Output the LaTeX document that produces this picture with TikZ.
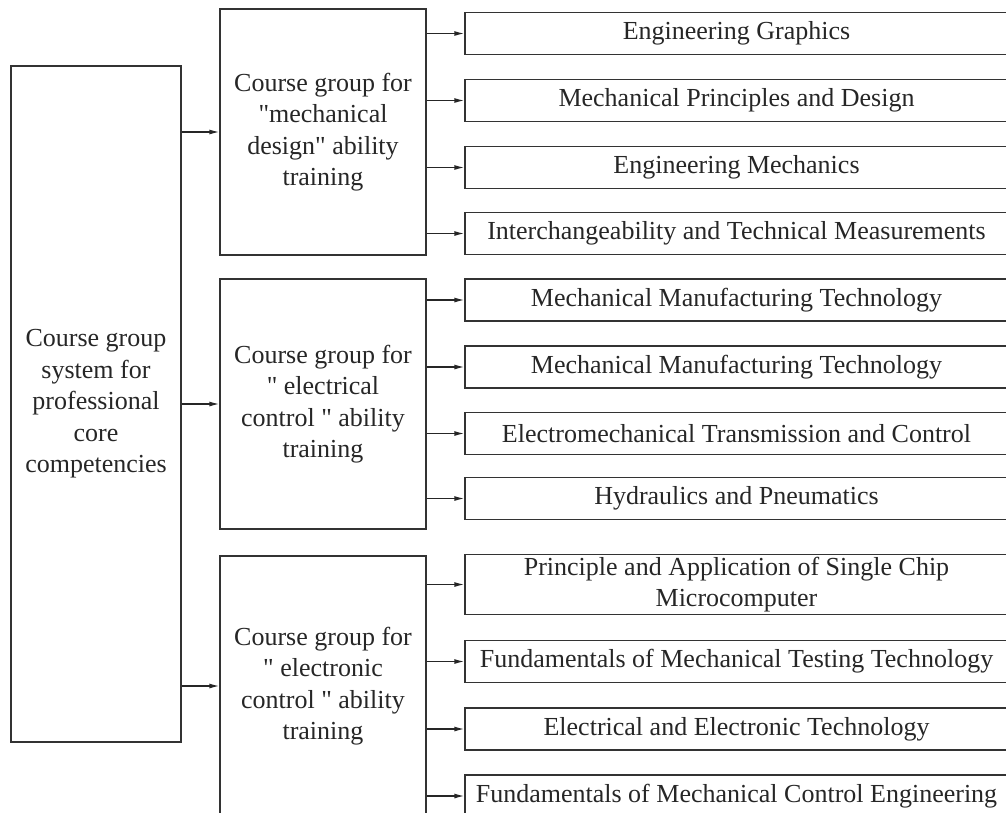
\documentclass[tikz,border=0pt]{standalone}
\usepackage{fontspec}
\setmainfont{Liberation Serif}
\usetikzlibrary{arrows.meta,shapes}
\newcommand{\qt}{\textquotedbl}
\tikzstyle{groupbox}=[rectangle,draw=black!80,line width=1.3pt,align=center,inner sep=2pt]
\tikzstyle{coursebox}=[rectangle,draw=black!80,line width=1.3pt,align=center,inner sep=2pt,minimum width=543pt,minimum height=42pt]
\tikzstyle{edge} = [draw,line width=1.3pt,black!85,-{Latex[length=10pt,width=5pt]}]

\begin{document}
\begin{tikzpicture}[x=1pt,y=-1pt,font=\fontsize{26}{31.5}\selectfont,text=black!85]
    % Fix the frame, boxes on the right and bottom run off it
    \clip (0,0) rectangle (1006,812);

    % First we draw the core box and the three course groups
    \node[groupbox, minimum width=170pt, minimum height=676pt] (core) at (96,404)
        {Course group\\system for\\professional\\core\\competencies};
    \node[groupbox, minimum width=206pt, minimum height=246pt] (g1) at (323,132)
        {Course group for\\\qt mechanical\\design\qt{} ability\\training};
    \node[groupbox, minimum width=206pt, minimum height=250pt] (g2) at (323,404)
        {Course group for\\\qt{} electrical\\control \qt{} ability\\training};
    \node[groupbox, minimum width=206pt, minimum height=260pt] (g3) at (323,686)
        {Course group for\\\qt{} electronic\\control \qt{} ability\\training};

    % Then the courses
    \foreach \y/\name/\txt in {33.5/c1/{Engineering Graphics}, 100.5/c2/{Mechanical Principles and Design},
        167.5/c3/{Engineering Mechanics}, 233.5/c4/{Interchangeability and Technical Measurements},
        300/c5/{Mechanical Manufacturing Technology}, 367/c6/{Mechanical Manufacturing Technology},
        433.5/c7/{Electromechanical Transmission and Control}, 498.5/c8/{Hydraulics and Pneumatics},
        584.5/c9/{Principle and Application of Single Chip\\Microcomputer},
        661.5/c10/{Fundamentals of Mechanical Testing Technology},
        729/c11/{Electrical and Electronic Technology},
        796/c12/{Fundamentals of Mechanical Control Engineering}}
        \node[coursebox] (\name) at (736.5,\y) {\txt};

    % Connect core box with the groups
    \foreach \dest in {g1, g2, g3}
        \path[edge] (core.east |- \dest.west) -- (\dest.west);

    % Connect groups with their courses
    \foreach \source/\dest in {g1/c1, g1/c2, g1/c3, g1/c4, g2/c5, g2/c6, g2/c7, g2/c8,
        g3/c9, g3/c10, g3/c11, g3/c12}
        \path[edge] (\source.east |- \dest.west) -- (\dest.west);
\end{tikzpicture}
\end{document}
